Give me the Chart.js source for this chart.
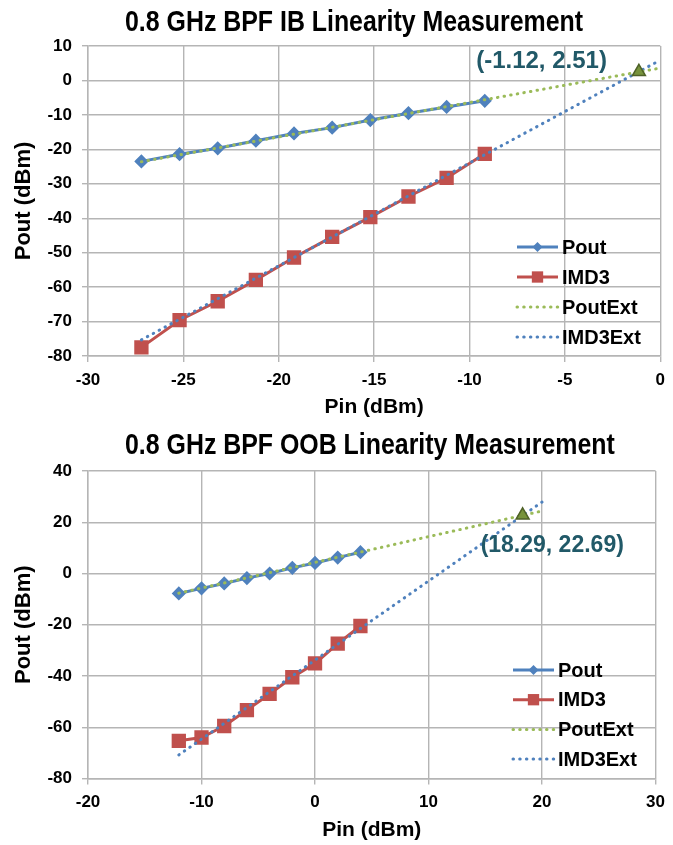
<!DOCTYPE html>
<html>
<head>
<meta charset="utf-8">
<script src="https://cdn.jsdelivr.net/npm/chart.js@4.4.0/dist/chart.umd.min.js"></script>
<style>
  html, body { margin: 0; padding: 0; background: #fff; }
  .box { position: absolute; left: 0; width: 673px; }
</style>
</head>
<body>
<div class="box" style="top:0;height:422px"><canvas id="ib" width="673" height="422"></canvas></div>
<div class="box" style="top:422px;height:423px"><canvas id="oob" width="673" height="423"></canvas></div>
<script>
// in-band measurement
const ibPin = [-27.2, -25.2, -23.2, -21.2, -19.2, -17.2, -15.2, -13.2, -11.2, -9.2];
const ibPout = [-23.5, -21.4, -19.7, -17.5, -15.4, -13.7, -11.5, -9.5, -7.7, -5.9];
const ibImd3 = [-77.5, -69.6, -64.1, -57.9, -51.4, -45.4, -39.7, -33.7, -28.3, -21.3];
const ibExtPin = [-27.2, 0];
const ibPoutExt = [-23.6, 3.6];
const ibImd3Ext = [-75.3, 5.9];
const ibIntercept = [-1.12, 2.51];

// out-of-band measurement
const oobPin = [-12, -10, -8, -6, -4, -2, 0, 2, 4];
const oobPout = [-7.8, -5.8, -3.9, -1.8, 0, 2.2, 4.1, 6.2, 8.3];
const oobImd3 = [-65.3, -64.0, -59.5, -53.3, -47.0, -40.5, -35.1, -27.4, -20.5];
const oobExtPin = [-12, 20];
const oobPoutExt = [-7.7, 24.4];
const oobImd3Ext = [-70.8, 27.9];
const oobIntercept = [18.29, 22.69];

const seriesNames = ['Pout', 'IMD3', 'PoutExt', 'IMD3Ext'];

const SANS = "'Liberation Sans', Arial, sans-serif";
const BLUE = '#4f81bd', RED = '#c0504d', GREEN = '#9bbb59';
const GRID = '#b5b5b5';

function pts(xs, ys) {
    return xs.map((x, i) => ({x: x, y: ys[i]}));
}

// no narrow font here, so the title is squeezed by hand
const narrowTitle = {
    id: 'narrowTitle',
    afterDraw(chart, args, opts) {
        const ctx = chart.ctx;
        ctx.save();
        ctx.font = 'bold 30px ' + SANS;
        ctx.fillStyle = '#000';
        ctx.textBaseline = 'middle';
        ctx.translate(opts.x, opts.y);
        ctx.scale(0.83, 1);
        ctx.fillText(opts.text, 0, 0);
        ctx.restore();
    }
};

// legend drawn inside the plot, like the excel one
const innerLegend = {
    id: 'innerLegend',
    afterDraw(chart, args, opts) {
        const ctx = chart.ctx;
        ctx.save();
        for (let i = 0; i < 4; i++) {
            const ds = chart.data.datasets[i];
            const y = opts.top + i * opts.gap;
            ctx.save();
            ctx.strokeStyle = ds.borderColor;
            ctx.lineWidth = ds.borderWidth;
            ctx.lineCap = ds.borderCapStyle || 'butt';
            ctx.setLineDash(ds.borderDash || []);
            ctx.beginPath();
            ctx.moveTo(opts.x, y);
            ctx.lineTo(opts.x + opts.len, y);
            ctx.stroke();
            ctx.restore();
            const cx = opts.x + opts.len / 2;
            ctx.fillStyle = ds.pointBackgroundColor;
            if (ds.pointStyle == 'rectRot' && ds.pointRadius > 0) {
                const r = ds.pointRadius;
                ctx.beginPath();
                ctx.moveTo(cx, y - r); ctx.lineTo(cx + r, y); ctx.lineTo(cx, y + r); ctx.lineTo(cx - r, y);
                ctx.closePath();
                ctx.fill();
            } else if (ds.pointStyle == 'rect' && ds.pointRadius > 0) {
                const s = ds.pointRadius * Math.SQRT1_2;
                ctx.fillRect(cx - s, y - s, 2 * s, 2 * s);
            }
            ctx.fillStyle = '#000';
            ctx.font = 'bold 20px ' + SANS;
            ctx.textBaseline = 'middle';
            ctx.fillText(ds.label, opts.x + opts.len + 4, y + 1);
        }
        ctx.restore();
    }
};

const interceptLabel = {
    id: 'interceptLabel',
    afterDatasetsDraw(chart, args, opts) {
        const ctx = chart.ctx;
        const px = chart.scales.x.getPixelForValue(opts.at[0]);
        const py = chart.scales.y.getPixelForValue(opts.at[1]);
        ctx.save();
        ctx.font = 'bold ' + opts.size + 'px ' + SANS;
        ctx.fillStyle = '#215968';
        ctx.textAlign = opts.align;
        ctx.textBaseline = 'middle';
        ctx.fillText('(' + opts.at[0] + ', ' + opts.at[1] + ')', px + opts.dx, py + opts.dy);
        ctx.restore();
    }
};

function makeChart(id, c) {
    const dotted = {borderWidth: 3, borderDash: [0.5, 6.2], borderCapStyle: 'round', pointRadius: 0};
    const datasets = [
        {label: seriesNames[0], data: pts(c.pin, c.pout), borderColor: BLUE, backgroundColor: BLUE,
         borderWidth: 3, pointStyle: 'rectRot', pointRadius: 5, pointBackgroundColor: BLUE, pointBorderColor: BLUE, order: 2},
        {label: seriesNames[1], data: pts(c.pin, c.imd3), borderColor: RED, backgroundColor: RED,
         borderWidth: 3, pointStyle: 'rect', pointRadius: 8, pointBackgroundColor: RED, pointBorderColor: RED, order: 2},
        Object.assign({label: seriesNames[2], data: pts(c.extPin, c.poutExt), borderColor: GREEN, order: 1}, dotted),
        Object.assign({label: seriesNames[3], data: pts(c.extPin, c.imd3Ext), borderColor: BLUE, order: 1}, dotted),
        {label: 'intercept', data: [{x: c.intercept[0], y: c.intercept[1]}], showLine: false,
         pointStyle: 'triangle', pointRadius: 7.5, pointBackgroundColor: '#77933c', pointBorderColor: '#4f6228',
         pointBorderWidth: 1.5, order: 0}
    ];

    return new Chart(document.getElementById(id).getContext('2d'), {
        type: 'line',
        data: {datasets: datasets},
        plugins: [narrowTitle, innerLegend, interceptLabel],
        options: {
            responsive: false,
            animation: false,
            elements: {line: {tension: 0}},
            layout: {padding: {left: 0, right: c.padRight, top: c.padTop, bottom: 0}},
            plugins: {
                legend: {display: false},
                tooltip: {enabled: false},
                title: {display: false},
                narrowTitle: c.title,
                innerLegend: c.legend,
                interceptLabel: c.label
            },
            scales: {
                x: {
                    type: 'linear', min: c.xMin, max: c.xMax,
                    afterFit: s => { s.height = c.xHeight; },
                    ticks: {stepSize: c.xStep, padding: 8, color: '#000', font: {family: SANS, size: 17, weight: 'bold'}},
                    grid: {color: GRID, lineWidth: 1.4, tickLength: 6},
                    border: {color: GRID, width: 1.4},
                    title: {display: true, text: 'Pin (dBm)', color: '#000', padding: {top: 0, bottom: 2},
                            font: {family: SANS, size: 21, weight: 'bold'}}
                },
                y: {
                    min: c.yMin, max: c.yMax,
                    afterFit: s => { s.width = 88; },
                    ticks: {stepSize: c.yStep, padding: 10, color: '#000', font: {family: SANS, size: 17, weight: 'bold'}},
                    grid: {color: GRID, lineWidth: 1.4, tickLength: 6},
                    border: {color: GRID, width: 1.4},
                    title: {display: true, text: 'Pout (dBm)', color: '#000', padding: {top: 11, bottom: 0},
                            font: {family: SANS, size: 22, weight: 'bold'}}
                }
            }
        }
    });
}

makeChart('ib', {
    title: {text: '0.8 GHz BPF IB Linearity Measurement', x: 125, y: 23},
    pin: ibPin, pout: ibPout, imd3: ibImd3,
    extPin: ibExtPin, poutExt: ibPoutExt, imd3Ext: ibImd3Ext, intercept: ibIntercept,
    xMin: -30, xMax: 0, xStep: 5, yMin: -80, yMax: 10, yStep: 10,
    padRight: 8, padTop: 46, xHeight: 66,
    legend: {x: 517, top: 247, gap: 30, len: 41},
    label: {at: ibIntercept, dx: -32, dy: -10, align: 'right', size: 24}
});

makeChart('oob', {
    title: {text: '0.8 GHz BPF OOB Linearity Measurement', x: 125, y: 24},
    pin: oobPin, pout: oobPout, imd3: oobImd3,
    extPin: oobExtPin, poutExt: oobPoutExt, imd3Ext: oobImd3Ext, intercept: oobIntercept,
    xMin: -20, xMax: 30, xStep: 10, yMin: -80, yMax: 40, yStep: 20,
    padRight: 10, padTop: 49, xHeight: 66.5,
    legend: {x: 513, top: 248, gap: 29.7, len: 41},
    label: {at: oobIntercept, dx: -42, dy: 30, align: 'left', size: 23}
});
</script>
</body>
</html>
